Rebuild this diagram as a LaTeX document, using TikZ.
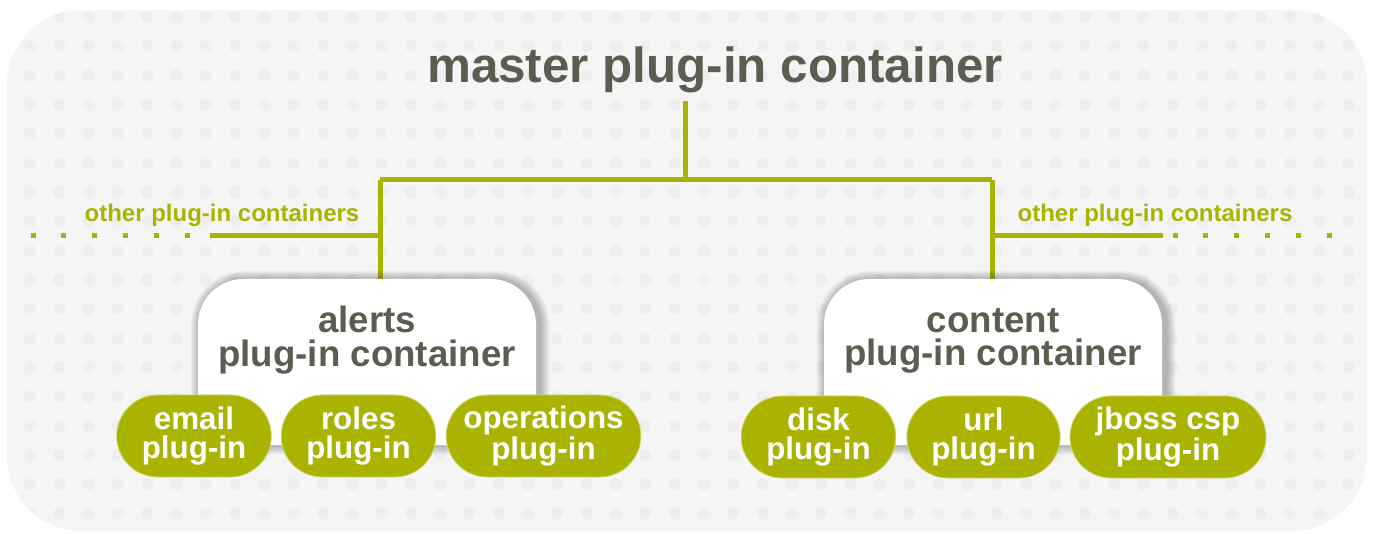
\documentclass[tikz,border=0pt]{standalone}
\usepackage{fontspec}
\setmainfont{Liberation Sans}
\usetikzlibrary{positioning,shapes.misc}
\definecolor{linkColor}{HTML}{AAB400}
\definecolor{textColor}{HTML}{5B5D50}
\definecolor{bgColor}{HTML}{F5F5F5}
\definecolor{dotColor}{HTML}{EEEEEE}
\tikzset{
	link/.style={draw=linkColor, line width=3.75pt},
	more/.style={draw=linkColor, line width=3.75pt, dash pattern=on 3.75pt off 19.35pt},
	container/.style={fill=white, rounded corners=34pt, minimum width=253.5pt, minimum height=124.5pt},
	halo/.style={fill=black, opacity=0.03},
	contlabel/.style={text=textColor, align=center, font=\fontsize{27.5}{25}\selectfont\bfseries},
	plugin/.style={rounded rectangle, fill=linkColor, draw=linkColor!55!white, line width=0.6pt,
		minimum height=61.5pt, inner sep=0pt, text=white, align=center,
		font=\fontsize{23.5}{21.5}\selectfont\bfseries},
	otherlabel/.style={text=linkColor, font=\fontsize{18}{18}\selectfont\bfseries, anchor=base}
}

\begin{document}
\begin{tikzpicture}[x=0.75pt, y=-0.75pt]
	\useasboundingbox (0,0) rectangle (1374,534);
	% backdrop with dots
	\fill[bgColor, rounded corners=56pt] (7,10) rectangle (1367,531);
	\begin{scope}
		\clip[rounded corners=56pt] (7,10) rectangle (1367,531);
		\foreach \i in {0,...,46}
			\foreach \j in {0,...,18}
				\fill[dotColor] ({30+29.3*\i},{17+29.2*\j}) circle (4.5pt);
	\end{scope}

	\node[text=textColor, font=\fontsize{37}{40}\selectfont\bfseries, anchor=base] (master) at (715,83) {master plug-in container};

	\coordinate (jmid) at (685,180);
	\coordinate (jleft) at (380,180);
	\coordinate (jright) at (992,180);
	\coordinate (lbr) at (380,236);
	\coordinate (rbr) at (992,236);
	\coordinate (lend) at (210,236);
	\coordinate (rend) at (1163,236);
	\coordinate (ldots) at (30.5,236);
	\coordinate (rdots) at (1172.5,236);

	\node[container] (alerts) at (367,362) {};
	\node[container] (content) at (993,362) {};

	% tree lines
	\path[link] (master.south -| jmid) ++(0,3) -- (jmid);
	\path[link] (jleft) -- (jright);
	\path[link] (jleft) -- (alerts.north -| jleft);
	\path[link] (jright) -- (content.north -| jright);
	\path[link] (lbr) -- (lend);
	\path[link] (rbr) -- (rend);
	\path[more] (ldots) -- (lend);
	\path[more] (rdots) -- ++(162,0);

	\node[otherlabel] (lother) at (222,222) {other plug-in containers};
	\node[otherlabel] (rother) at (1155,222) {other plug-in containers};

	% soft shadow, then boxes over the lines
	\foreach \n in {alerts,content}
		\foreach \k in {1,...,9}
			\fill[halo, rounded corners={34pt+0.75pt*\k}] ([shift={(-\k+2,-\k+1)}]\n.north west) rectangle ([shift={(\k+4,\k)}]\n.south east);
	\node[container] at (alerts) {};
	\node[container] at (content) {};
	\node[contlabel] (alertsl) at (367,340) {alerts\\plug-in container};
	\node[contlabel] (contentl) at (993,341) {content\\plug-in container};

	\node[plugin, minimum width=116pt] (email) at (194,436) {email\\plug-in};
	\node[plugin, minimum width=116pt] (roles) at (358.5,436) {roles\\plug-in};
	\node[plugin, minimum width=146pt] (operations) at (543.5,436) {operations\\plug-in};
	\node[plugin, minimum width=116pt] (disk) at (818.5,437) {disk\\plug-in};
	\node[plugin, minimum width=115pt] (url) at (983.5,437) {url\\plug-in};
	\node[plugin, minimum width=147pt] (jboss) at (1168,437) {jboss csp\\plug-in};
\end{tikzpicture}
\end{document}
